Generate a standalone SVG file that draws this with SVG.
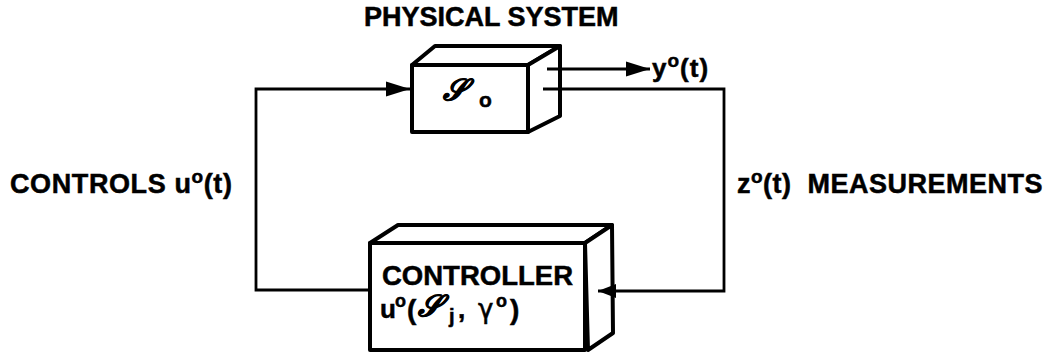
<svg xmlns="http://www.w3.org/2000/svg" width="1062" height="357" viewBox="0 0 1062 357">
<style>
.box{fill:#fff;stroke:#000;stroke-width:4;stroke-linejoin:round}
.ln{fill:none;stroke:#000;stroke-width:2.8}
.t{font-family:"Liberation Sans",Arial,sans-serif;font-weight:bold;fill:#000;stroke:#000;stroke-width:0.5}
.scr{font-family:"DejaVu Serif","Liberation Serif",serif;font-style:italic;font-weight:bold;fill:#000;stroke:#000;stroke-width:0.8}
.g{font-family:"DejaVu Sans",sans-serif;fill:#000;stroke:#000;stroke-width:0.6}
</style>
<defs>
<marker id="ah" markerWidth="24" markerHeight="16" refX="24" refY="8" orient="auto" markerUnits="userSpaceOnUse">
<path d="M0,0.5 L24,8 L0,15.5 Z" fill="#000"/>
</marker>
<marker id="ahs" markerWidth="18" markerHeight="16" refX="18" refY="8" orient="auto" markerUnits="userSpaceOnUse">
<path d="M0,1 L18,8 L0,15 Z" fill="#000"/>
</marker>
</defs>
<rect width="1062" height="357" fill="#fff"/>
<text class="t" x="364" y="26" font-size="27">PHYSICAL SYSTEM</text>
<g id="physical-system">
<polygon class="box" points="412,65 435,46 560,46 528,65"/>
<polygon class="box" points="528,65 560,46 560,116 528,132"/>
<rect class="box" x="412" y="65" width="116" height="67"/>
<text class="scr" x="443" y="100" font-size="30">𝒮</text>
<text class="t" x="479" y="107" font-size="21">o</text>
</g>
<g id="controller">
<polygon class="box" points="370,243 398,225 612,225 585,243"/>
<polygon class="box" points="585,243 612,225 613,333 588,350"/>
<rect class="box" x="370" y="243" width="215" height="107"/>
<text class="t" x="382" y="285" font-size="27" textLength="191" lengthAdjust="spacingAndGlyphs">CONTROLLER</text>
<text class="t" x="380" y="318" font-size="26">u</text>
<text class="t" x="395" y="307" font-size="18">o</text>
<text class="t" x="407" y="319" font-size="28">(</text>
<text class="scr" x="418" y="316" font-size="30">𝒮</text>
<text class="t" x="449" y="323" font-size="20">j</text>
<text class="t" x="458" y="318" font-size="26">,</text>
<text class="g" x="478" y="318" font-size="26">γ</text>
<text class="t" x="496" y="307" font-size="18">o</text>
<text class="t" x="510" y="319" font-size="28">)</text>
</g>
<g id="connectors">
<polyline class="ln" points="370,290 256,290 256,89 410,89" marker-end="url(#ah)"/>
<line class="ln" x1="547" y1="69" x2="650" y2="69" marker-end="url(#ah)"/>
<polyline class="ln" points="543,89 724,89 724,291 598,291" marker-end="url(#ahs)"/>
</g>
<g id="labels">
<text class="t" x="652" y="77" font-size="26" letter-spacing="1">y<tspan dy="-10" font-size="19">o</tspan><tspan dy="10">(t)</tspan></text>
<text class="t" x="10" y="193" font-size="27" letter-spacing="0.6">CONTROLS u<tspan dy="-10" font-size="19">o</tspan><tspan dy="10">(t)</tspan></text>
<text class="t" x="737" y="193" font-size="27" letter-spacing="0.5" style="white-space:pre">z<tspan dy="-10" font-size="19">o</tspan><tspan dy="10">(t)  MEASUREMENTS</tspan></text>
</g>
</svg>
